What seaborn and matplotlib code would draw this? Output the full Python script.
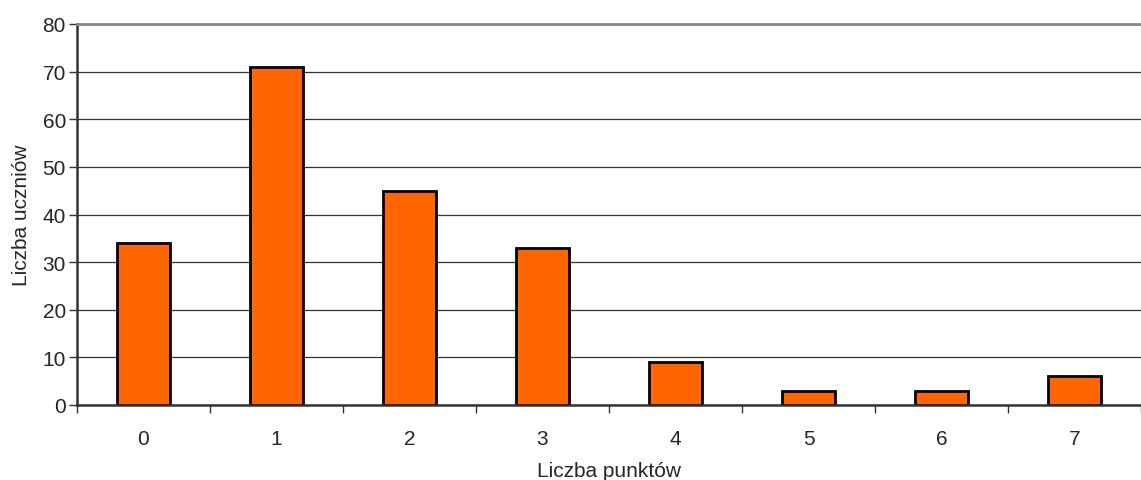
import numpy as np
import pandas as pd
import seaborn as sns
import matplotlib.pyplot as plt

# dane
punkty = ['0', '1', '2', '3', '4', '5', '6', '7']
uczniowie = [34, 71, 45, 33, 9, 3, 3, 6]

df = pd.DataFrame({'punkty': punkty, 'uczniowie': uczniowie})

sns.set_style('white')
plt.rcParams['font.family'] = ['Liberation Sans', 'DejaVu Sans']

fig = plt.figure(figsize=(11.41, 4.81), dpi=100)
ax = fig.add_axes([77 / 1141, 75 / 481, 1 - 77 / 1141, 381 / 481])

sns.barplot(data=df, x='punkty', y='uczniowie', color='#FF6600',
            edgecolor='black', linewidth=2, width=0.4, saturation=1, ax=ax)

ax.set_ylim(0, 80)
ax.set_xlim(-0.5, 7.5)
ax.set_yticks(range(0, 81, 10))
ax.yaxis.grid(True, color='#333333', linewidth=0.9)
ax.set_axisbelow(True)

# kreski podzialki miedzy kategoriami
ax.set_xticks(np.arange(-0.5, 8, 1), minor=True)
ax.tick_params(axis='x', which='major', length=0, pad=17, labelsize=15)
ax.tick_params(axis='x', which='minor', length=6, width=1, color='#333333', direction='out', bottom=True)
ax.tick_params(axis='y', length=6, width=1, color='#333333', direction='out', left=True, labelsize=15, pad=2)

ax.spines['right'].set_visible(False)
ax.spines['top'].set_color('#888888')
ax.spines['top'].set_linewidth(2)
ax.spines['left'].set_color('#333333')
ax.spines['left'].set_linewidth(1.8)
ax.spines['bottom'].set_color('#333333')
ax.spines['bottom'].set_linewidth(1.8)

ax.set_xlabel('Liczba punktów', fontsize=15, labelpad=10)
ax.set_ylabel('Liczba uczniów', fontsize=15, labelpad=8)

plt.savefig('out.png', dpi=100)
